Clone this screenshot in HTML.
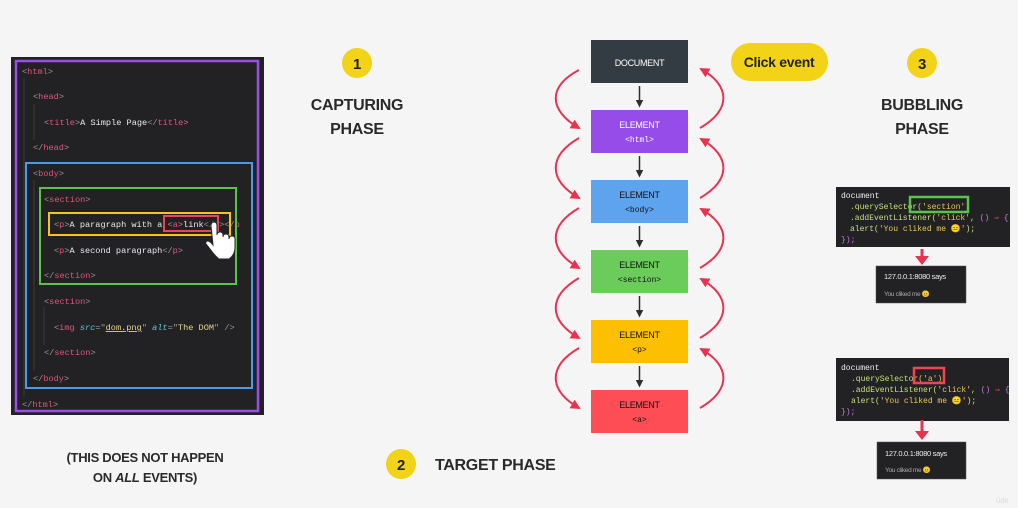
<!DOCTYPE html>
<html><head><meta charset="utf-8"><style>
html,body{margin:0;padding:0;background:#f5f5f5;}
svg{display:block;}
.s{font-family:"Liberation Sans",sans-serif;letter-spacing:-0.3px;}
.m{font-family:"Liberation Mono","DejaVu Sans Mono",monospace;}
</style></head><body>
<svg width="1018" height="508" viewBox="0 0 1018 508" xmlns="http://www.w3.org/2000/svg">
<defs>
<marker id="rh" viewBox="0 0 10 10" refX="8" refY="5" markerWidth="5" markerHeight="5" orient="auto"><path d="M0,0 L10,5 L0,10 z" fill="#e8334f"/></marker>
<marker id="bh" viewBox="0 0 10 10" refX="8" refY="5" markerWidth="5" markerHeight="5" orient="auto"><path d="M0,0 L10,5 L0,10 z" fill="#2b2f33"/></marker>
</defs>
<rect width="1018" height="508" fill="#f5f5f5"/>

<rect x="11" y="57" width="253" height="358" fill="#222224"/>
<g stroke="#3a3a3c" stroke-width="1">
<line x1="24" y1="78" x2="24" y2="397"/><line x1="34" y1="104" x2="34" y2="140"/><line x1="44" y1="307" x2="44" y2="345"/><line x1="34" y1="180" x2="34" y2="370"/>
</g>
<g class="m" font-size="8.6" fill="#e9e9e9">
<text x="22" y="74"><tspan fill="#999">&lt;</tspan><tspan fill="#e2557a">html</tspan><tspan fill="#999">&gt;</tspan></text>
<text x="33" y="99"><tspan fill="#999">&lt;</tspan><tspan fill="#e2557a">head</tspan><tspan fill="#999">&gt;</tspan></text>
<text x="44" y="125"><tspan fill="#999">&lt;</tspan><tspan fill="#e2557a">title</tspan><tspan fill="#999">&gt;</tspan>A Simple Page<tspan fill="#999">&lt;/</tspan><tspan fill="#e2557a">title</tspan><tspan fill="#999">&gt;</tspan></text>
<text x="33" y="150"><tspan fill="#999">&lt;/</tspan><tspan fill="#e2557a">head</tspan><tspan fill="#999">&gt;</tspan></text>
<text x="33" y="176"><tspan fill="#999">&lt;</tspan><tspan fill="#e2557a">body</tspan><tspan fill="#999">&gt;</tspan></text>
<text x="44" y="202"><tspan fill="#999">&lt;</tspan><tspan fill="#e2557a">section</tspan><tspan fill="#999">&gt;</tspan></text>
<text x="54" y="227"><tspan fill="#999">&lt;</tspan><tspan fill="#e2557a">p</tspan><tspan fill="#999">&gt;</tspan>A paragraph with a <tspan fill="#999">&lt;</tspan><tspan fill="#e2557a">a</tspan><tspan fill="#999">&gt;</tspan>link<tspan fill="#999">&lt;/a&gt;&lt;/</tspan><tspan fill="#e2557a">p</tspan></text>
<text x="54" y="253"><tspan fill="#999">&lt;</tspan><tspan fill="#e2557a">p</tspan><tspan fill="#999">&gt;</tspan>A second paragraph<tspan fill="#999">&lt;/</tspan><tspan fill="#e2557a">p</tspan><tspan fill="#999">&gt;</tspan></text>
<text x="44" y="278"><tspan fill="#999">&lt;/</tspan><tspan fill="#e2557a">section</tspan><tspan fill="#999">&gt;</tspan></text>
<text x="44" y="304"><tspan fill="#999">&lt;</tspan><tspan fill="#e2557a">section</tspan><tspan fill="#999">&gt;</tspan></text>
<text x="54" y="330"><tspan fill="#999">&lt;</tspan><tspan fill="#e2557a">img</tspan> <tspan fill="#5fc4d8" font-style="italic">src</tspan><tspan fill="#999">="</tspan><tspan fill="#e8d88a" text-decoration="underline">dom.png</tspan><tspan fill="#999">"</tspan> <tspan fill="#5fc4d8" font-style="italic">alt</tspan><tspan fill="#999">="</tspan><tspan fill="#e8d88a">The DOM</tspan><tspan fill="#999">" /&gt;</tspan></text>
<text x="44" y="355"><tspan fill="#999">&lt;/</tspan><tspan fill="#e2557a">section</tspan><tspan fill="#999">&gt;</tspan></text>
<text x="33" y="381"><tspan fill="#999">&lt;/</tspan><tspan fill="#e2557a">body</tspan><tspan fill="#999">&gt;</tspan></text>
<text x="22" y="407"><tspan fill="#999">&lt;/</tspan><tspan fill="#e2557a">html</tspan><tspan fill="#999">&gt;</tspan></text>
</g>
<rect x="16" y="61" width="242" height="350" fill="none" stroke="#9b4de8" stroke-width="2.5"/>
<rect x="26" y="163" width="226" height="225" fill="none" stroke="#4a9ae8" stroke-width="2"/>
<rect x="40" y="188" width="196" height="96" fill="none" stroke="#5cc24c" stroke-width="2"/>
<rect x="49" y="213" width="181" height="22" fill="none" stroke="#f5c518" stroke-width="2"/>
<rect x="164" y="216" width="54" height="15" fill="none" stroke="#ef4456" stroke-width="2"/>
<path d="M211,226 q0,-4 3,-4 q3,0 3,4 v9 q0,-3 3,-3 q3,0 3,3 v2 q0,-3 3,-3 q3,0 3,3 v2 q0,-3 3,-3 q3,0 3,3 v8 q0,8 -6,12 h-10 q-4,-3 -9,-10 l-4,-5 q-1,-3 2,-3 q2,0 5,4 z" fill="#fff" stroke="#222" stroke-width="1"/>

<circle cx="357" cy="63" r="15" fill="#f2d318"/>
<text x="357" y="69" class="s" font-size="15" font-weight="bold" text-anchor="middle" fill="#222">1</text>
<text x="357" y="110" class="s" font-size="16" font-weight="bold" text-anchor="middle" fill="#2a2a2a">CAPTURING</text>
<text x="357" y="134" class="s" font-size="16" font-weight="bold" text-anchor="middle" fill="#2a2a2a">PHASE</text>
<circle cx="922" cy="63" r="15" fill="#f2d318"/>
<text x="922" y="69" class="s" font-size="15" font-weight="bold" text-anchor="middle" fill="#222">3</text>
<text x="922" y="110" class="s" font-size="16" font-weight="bold" text-anchor="middle" fill="#2a2a2a">BUBBLING</text>
<text x="922" y="134" class="s" font-size="16" font-weight="bold" text-anchor="middle" fill="#2a2a2a">PHASE</text>
<circle cx="401" cy="464" r="15" fill="#f2d318"/>
<text x="401" y="470" class="s" font-size="15" font-weight="bold" text-anchor="middle" fill="#222">2</text>
<text x="435" y="470" class="s" font-size="16" font-weight="bold" fill="#2a2a2a">TARGET PHASE</text>
<text x="145" y="462" class="s" font-size="13" font-weight="bold" text-anchor="middle" fill="#2a2a2a">(THIS DOES NOT HAPPEN</text>
<text x="145" y="482" class="s" font-size="13" font-weight="bold" text-anchor="middle" fill="#2a2a2a">ON <tspan font-style="italic">ALL</tspan> EVENTS)</text>

<rect x="731" y="43" width="97" height="38" rx="19" fill="#f2d318"/>
<text x="779" y="67" class="s" font-size="14" font-weight="bold" text-anchor="middle" fill="#222">Click event</text>

<rect x="591" y="40" width="97" height="43" fill="#323c42"/>
<text x="639.5" y="66" class="s" font-size="9" text-anchor="middle" fill="#fff">DOCUMENT</text>
<rect x="591" y="110" width="97" height="43" fill="#954ce8"/>
<text x="639.5" y="128" class="s" font-size="9" text-anchor="middle" fill="#fff">ELEMENT</text>
<text x="639.5" y="142" class="m" font-size="8" text-anchor="middle" fill="#fff">&lt;html&gt;</text>
<rect x="591" y="180" width="97" height="43" fill="#5ea3ee"/>
<text x="639.5" y="198" class="s" font-size="9" text-anchor="middle" fill="#111">ELEMENT</text>
<text x="639.5" y="212" class="m" font-size="8" text-anchor="middle" fill="#111">&lt;body&gt;</text>
<rect x="591" y="250" width="97" height="43" fill="#6bcb5b"/>
<text x="639.5" y="268" class="s" font-size="9" text-anchor="middle" fill="#111">ELEMENT</text>
<text x="639.5" y="282" class="m" font-size="8" text-anchor="middle" fill="#111">&lt;section&gt;</text>
<rect x="591" y="320" width="97" height="43" fill="#fcc000"/>
<text x="639.5" y="338" class="s" font-size="9" text-anchor="middle" fill="#111">ELEMENT</text>
<text x="639.5" y="352" class="m" font-size="8" text-anchor="middle" fill="#111">&lt;p&gt;</text>
<rect x="591" y="390" width="97" height="43" fill="#fe4d55"/>
<text x="639.5" y="408" class="s" font-size="9" text-anchor="middle" fill="#111">ELEMENT</text>
<text x="639.5" y="422" class="m" font-size="8" text-anchor="middle" fill="#111">&lt;a&gt;</text>

<g stroke="#2b2f33" stroke-width="1.5" marker-end="url(#bh)">
<line x1="639.5" y1="86" x2="639.5" y2="106"/><line x1="639.5" y1="156" x2="639.5" y2="176"/><line x1="639.5" y1="226" x2="639.5" y2="246"/><line x1="639.5" y1="296" x2="639.5" y2="316"/><line x1="639.5" y1="366" x2="639.5" y2="386"/>
</g>
<g fill="none" stroke="#e8334f" stroke-width="2" marker-end="url(#rh)">
<path d="M579,70 C548,86 548,110 579,128"/>
<path d="M579,138 C548,156 548,180 579,198"/>
<path d="M579,208 C548,226 548,250 579,268"/>
<path d="M579,278 C548,296 548,320 579,338"/>
<path d="M579,348 C548,366 548,390 579,408"/>
<path d="M700,128 C731,110 731,86 701,69"/>
<path d="M700,198 C731,180 731,156 701,139"/>
<path d="M700,268 C731,250 731,226 701,209"/>
<path d="M700,338 C731,320 731,296 701,279"/>
<path d="M700,408 C731,390 731,366 701,349"/>
</g>

<g class="m" font-size="8">
<rect x="836" y="187" width="174" height="60" fill="#222224"/>
<text x="841" y="198" fill="#eee">document</text>
<text x="850" y="209" fill="#c8e07a">.querySelector<tspan fill="#e8c85a">('section')</tspan></text>
<text x="850" y="220" fill="#c8e07a">.addEventListener(<tspan fill="#e8c85a">'click'</tspan>, <tspan fill="#c77ad8">()</tspan> <tspan fill="#ef4456">⇒</tspan> <tspan fill="#c77ad8">{</tspan></text>
<text x="850" y="231" fill="#c8e07a">alert(<tspan fill="#e8c85a">'You cliked me 😐'</tspan>);</text>
<text x="841" y="242" fill="#c77ad8">});</text>
<rect x="910" y="197" width="58" height="15" fill="none" stroke="#5cc24c" stroke-width="2.5"/>

<rect x="836" y="358" width="173" height="63" fill="#222224"/>
<text x="841" y="370" fill="#eee">document</text>
<text x="851" y="381" fill="#c8e07a">.querySelector<tspan fill="#e8c85a">('a')</tspan></text>
<text x="851" y="392" fill="#c8e07a">.addEventListener(<tspan fill="#e8c85a">'click'</tspan>, <tspan fill="#c77ad8">()</tspan> <tspan fill="#ef4456">⇒</tspan> <tspan fill="#c77ad8">{</tspan></text>
<text x="851" y="403" fill="#c8e07a">alert(<tspan fill="#e8c85a">'You cliked me 😐'</tspan>);</text>
<text x="841" y="414" fill="#c77ad8">});</text>
<rect x="914" y="368" width="30" height="15" fill="none" stroke="#ef4456" stroke-width="2.5"/>
</g>
<g stroke="#e8334f" stroke-width="3"><line x1="922" y1="249" x2="922" y2="257"/><line x1="922" y1="420" x2="922" y2="432"/></g>
<path d="M915,256 L929,256 L922,265 z" fill="#e8334f"/>
<path d="M915,431 L929,431 L922,440 z" fill="#e8334f"/>
<rect x="876" y="266" width="90" height="37" fill="#222224" stroke="#555" stroke-width="0.5"/>
<text x="884" y="279" class="s" font-size="7.5" fill="#eee">127.0.0.1:8080 says</text>
<text x="884" y="296" class="s" font-size="6.5" fill="#aaa">You cliked me 😐</text>
<rect x="877" y="442" width="89" height="37" fill="#222224" stroke="#555" stroke-width="0.5"/>
<text x="885" y="456" class="s" font-size="7.5" fill="#eee">127.0.0.1:8080 says</text>
<text x="885" y="472" class="s" font-size="6.5" fill="#aaa">You cliked me 😐</text>
<text x="996" y="503" class="s" font-size="8" fill="#ddd">ūde</text>
</svg>
</body></html>
